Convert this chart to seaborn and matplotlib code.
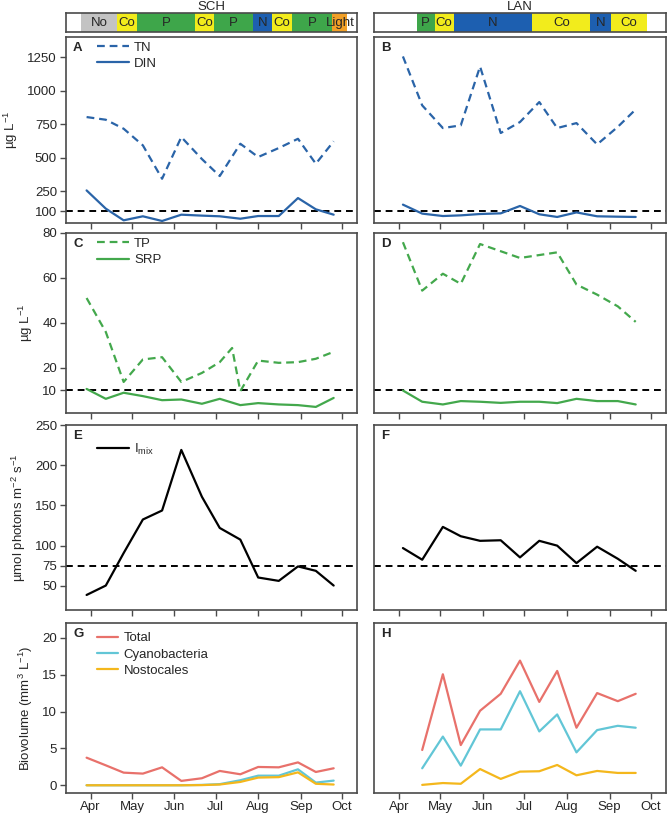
import numpy as np
import pandas as pd
import seaborn as sns
import matplotlib.pyplot as plt
import matplotlib.dates as mdates

# sampling dates (year arbitrary)
sch_dates = pd.to_datetime(['2015-03-29', '2015-04-12', '2015-04-25', '2015-05-09', '2015-05-23',
                            '2015-06-06', '2015-06-21', '2015-07-04', '2015-07-19', '2015-08-01',
                            '2015-08-16', '2015-08-30', '2015-09-12', '2015-09-25'])
sch_tp_dates = pd.to_datetime(['2015-03-29', '2015-04-12', '2015-04-25', '2015-05-09', '2015-05-23',
                               '2015-06-06', '2015-06-21', '2015-07-04', '2015-07-13', '2015-07-19',
                               '2015-08-01', '2015-08-16', '2015-08-30', '2015-09-12', '2015-09-25'])
lan_dates = pd.to_datetime(['2015-04-04', '2015-04-18', '2015-05-03', '2015-05-16', '2015-05-30',
                            '2015-06-14', '2015-06-28', '2015-07-12', '2015-07-25', '2015-08-08',
                            '2015-08-23', '2015-09-07', '2015-09-20'])
lan_bio_dates = lan_dates[1:]

# SCH
sch_tn = [803, 783, 716, 592, 343, 654, 490, 363, 604, 505, 572, 641, 455, 622]
sch_din = [256, 120, 33, 63, 28, 75, 68, 63, 45, 65, 65, 199, 115, 75]
sch_tp = [51.1, 36, 13.8, 23.8, 24.8, 13.8, 17.8, 22.6, 28.9, 9.7, 23.3, 22.3, 22.6, 24.1, 27.2]
sch_srp = [10.7, 6.3, 9.0, 7.5, 5.7, 6.0, 4.1, 6.3, 3.5, 4.4, 3.8, 3.5, 2.7, 6.7]
sch_imix = [38.7, 50.4, 90.8, 132.5, 143.7, 219, 160.8, 122, 107.5, 60.4, 56.2, 74.2, 68.7, 50.4]
sch_total = [3.74, 2.7, 1.71, 1.58, 2.43, 0.59, 0.95, 1.94, 1.49, 2.48, 2.43, 3.1, 1.8, 2.3]
sch_cyano = [0, 0, 0, 0, 0, 0, 0.05, 0.15, 0.68, 1.3, 1.3, 2.16, 0.36, 0.63]
sch_nost = [0, 0, 0, 0, 0, 0, 0.02, 0.1, 0.45, 1.04, 1.1, 1.75, 0.2, 0.1]

# LAN
lan_tn = [1255, 890, 721, 741, 1180, 684, 766, 915, 721, 758, 599, 730, 860]
lan_din = [150, 83, 65, 70, 80, 85, 140, 78, 58, 92, 63, 60, 58]
lan_tp = [75.9, 54.4, 61.9, 57.4, 75.1, 71.9, 68.9, 70.2, 71.4, 57.1, 52.6, 47.4, 40.5]
lan_srp = [10, 5, 3.8, 5.3, 5, 4.5, 5, 5, 4.4, 6.3, 5.3, 5.3, 3.8]
lan_imix = [97, 82.5, 123.3, 111.7, 106, 106.7, 85.4, 106, 100, 78.3, 98.7, 83.7, 68.7]
lan_total = [4.78, 15.05, 5.45, 10.1, 12.4, 16.9, 11.3, 15.5, 7.8, 12.5, 11.4, 12.4]
lan_cyano = [2.3, 6.6, 2.66, 7.57, 7.57, 12.75, 7.3, 9.6, 4.46, 7.48, 8.06, 7.8]
lan_nost = [0.05, 0.3, 0.2, 2.2, 0.86, 1.85, 1.9, 2.75, 1.35, 1.94, 1.67, 1.67]

# limitation phases (top strips)
sch_phase_edges = pd.to_datetime(['2015-03-25', '2015-04-20', '2015-05-05', '2015-06-16', '2015-06-30',
                                  '2015-07-28', '2015-08-11', '2015-08-26', '2015-09-24', '2015-10-05'])
sch_phase_labels = ['No', 'Co', 'P', 'Co', 'P', 'N', 'Co', 'P', 'Light']
lan_phase_edges = pd.to_datetime(['2015-04-14', '2015-04-27', '2015-05-11', '2015-07-07',
                                  '2015-08-18', '2015-09-02', '2015-09-28'])
lan_phase_labels = ['P', 'Co', 'N', 'Co', 'N', 'Co']

month_ticks = pd.to_datetime(['2015-04-01', '2015-05-01', '2015-06-01', '2015-07-01',
                              '2015-08-01', '2015-09-01', '2015-10-01'])
month_labels = ['Apr', 'May', 'Jun', 'Jul', 'Aug', 'Sep', 'Oct']
xlim = pd.to_datetime(['2015-03-14', '2015-10-12'])

phase_colors = {'No': '#c3c3c3', 'Co': '#f2ec1c', 'P': '#3ea64a',
                'N': '#1d5fb0', 'Light': '#f2a027'}
c_blue = '#2a64a8'
c_green = '#43a84c'
c_total = '#e8716b'
c_cyano = '#62c6d6'
c_nost = '#f4b71c'
frame = '#4a4a4a'

sns.set_style('ticks')
plt.rcParams['font.family'] = ['Liberation Sans', 'DejaVu Sans']
plt.rcParams['mathtext.fontset'] = 'custom'
plt.rcParams['mathtext.rm'] = 'Liberation Sans'
plt.rcParams['mathtext.it'] = 'Liberation Sans:italic'
plt.rcParams['font.size'] = 9

W, H = 667, 815
fig = plt.figure(figsize=(W / 100, H / 100), dpi=100)


def px_axes(x0, y0, x1, y1):
    return fig.add_axes([x0 / W, 1 - y1 / H, (x1 - x0) / W, (y1 - y0) / H])


cols = [(66, 357), (374, 666)]
rows = [(37, 223), (233, 413), (425, 610), (623, 793)]
dash = (0, (3.5, 2.2))


def style_axes(ax, left, bottom_labels):
    for s in ax.spines.values():
        s.set_color(frame)
        s.set_linewidth(1.2)
    ax.set_xlim(xlim)
    ax.set_xticks(month_ticks)
    ax.set_xticklabels(month_labels if bottom_labels else [])
    ax.tick_params(axis='both', direction='out', length=4, width=1, color=frame,
                   labelsize=9.5, pad=2.5)
    ax.tick_params(axis='x', labelsize=9.5, pad=1.5)
    if not left:
        ax.tick_params(axis='y', left=False, labelleft=False)
    ax.set_xlabel('')


def line(ax, x, y, color, label=None, ls='-'):
    sns.lineplot(x=x, y=y, ax=ax, color=color, lw=1.6, linestyle=ls, label=label,
                 legend=bool(label))


axes = {}
letters = 'ABCDEFGH'
for r, (y0, y1) in enumerate(rows):
    for c, (x0, x1) in enumerate(cols):
        ax = px_axes(x0, y0, x1, y1)
        axes[(r, c)] = ax
        ax.text(7 / (x1 - x0), 1 - 11 / (y1 - y0), letters[2 * r + c], transform=ax.transAxes,
                fontweight='bold', fontsize=9.5, ha='left', va='center')

# row A/B
line(axes[(0, 0)], sch_dates, sch_tn, c_blue, 'TN', dash)
line(axes[(0, 0)], sch_dates, sch_din, c_blue, 'DIN')
line(axes[(0, 1)], lan_dates, lan_tn, c_blue, None, dash)
line(axes[(0, 1)], lan_dates, lan_din, c_blue)
# row C/D
line(axes[(1, 0)], sch_tp_dates, sch_tp, c_green, 'TP', dash)
line(axes[(1, 0)], sch_dates, sch_srp, c_green, 'SRP')
line(axes[(1, 1)], lan_dates, lan_tp, c_green, None, dash)
line(axes[(1, 1)], lan_dates, lan_srp, c_green)
# row E/F
line(axes[(2, 0)], sch_dates, sch_imix, 'black', r'I$_{\mathrm{mix}}$')
line(axes[(2, 1)], lan_dates, lan_imix, 'black')
# row G/H
line(axes[(3, 0)], sch_dates, sch_total, c_total, 'Total')
line(axes[(3, 0)], sch_dates, sch_cyano, c_cyano, 'Cyanobacteria')
line(axes[(3, 0)], sch_dates, sch_nost, c_nost, 'Nostocales')
line(axes[(3, 1)], lan_bio_dates, lan_total, c_total)
line(axes[(3, 1)], lan_bio_dates, lan_cyano, c_cyano)
line(axes[(3, 1)], lan_bio_dates, lan_nost, c_nost)

ylims = [(13, 1400), (0, 80), (20, 250), (-1.05, 22)]
yticks = [[100, 250, 500, 750, 1000, 1250], [10, 20, 40, 60, 80],
          [50, 75, 100, 150, 200, 250], [0, 5, 10, 15, 20]]
thresholds = [100, 10, 75, None]
ylabels = [r'µg L$^{-1}$', r'µg L$^{-1}$', r'µmol photons m$^{-2}$ s$^{-1}$',
           r'Biovolume (mm$^{3}$ L$^{-1}$)']

for r in range(4):
    for c in range(2):
        ax = axes[(r, c)]
        ax.set_ylim(ylims[r])
        ax.set_yticks(yticks[r])
        if thresholds[r] is not None:
            ax.axhline(thresholds[r], color='black', lw=1.4, linestyle=(0, (3.5, 2.5)), zorder=1)
        style_axes(ax, c == 0, r == 3)
        ax.set_ylabel(ylabels[r] if c == 0 else '', fontsize=9.5, labelpad=5)

leg_pos = [(0.075, 1.025), (0.075, 1.025), (0.075, 0.96), (0.075, 1.0)]
hlen = [2.4, 2.4, 2.4, 1.6]
for r in range(4):
    axes[(r, 0)].legend(loc='upper left', bbox_to_anchor=leg_pos[r], frameon=False,
                        fontsize=9.5, handlelength=hlen[r], handletextpad=0.4,
                        labelspacing=0.3, borderaxespad=0.3)
for r in range(4):
    ax = axes[(r, 1)]
    if ax.get_legend() is not None:
        ax.get_legend().remove()

# phase strips
strips = [(cols[0], sch_phase_edges, sch_phase_labels, 'SCH'),
          (cols[1], lan_phase_edges, lan_phase_labels, 'LAN')]
for (x0, x1), edges, labels, title in strips:
    ax = px_axes(x0, 13, x1, 32)
    ax.set_xlim(xlim)
    ax.set_ylim(0, 1)
    for i, lab in enumerate(labels):
        ax.axvspan(edges[i], edges[i + 1], color=phase_colors[lab], lw=0)
        mid = edges[i] + (edges[i + 1] - edges[i]) / 2
        ax.text(mid, 0.45, lab, ha='center', va='center', fontsize=9.5)
    ax.set_xticks([])
    ax.set_yticks([])
    for s in ax.spines.values():
        s.set_color(frame)
        s.set_linewidth(1.2)
    ax.set_title(title, fontsize=9.5, pad=1.0)

fig.savefig('out.png', dpi=100)
